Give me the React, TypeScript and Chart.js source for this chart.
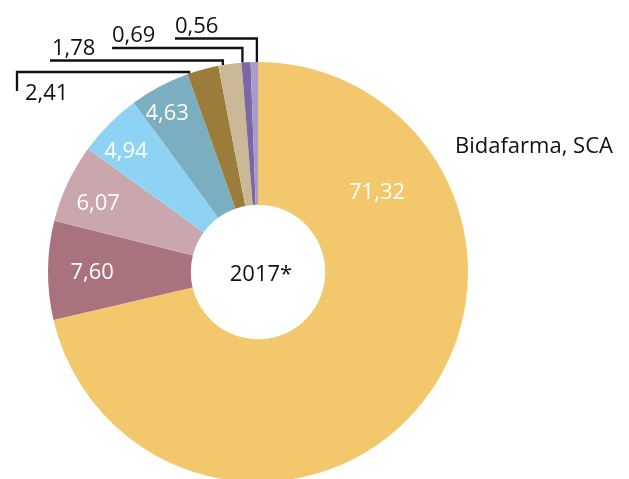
import React, { useEffect, useRef } from "react";
import { Chart, registerables } from "chart.js";

Chart.register(...registerables);

// ---- data ----
const categories = [
  "Bidafarma, SCA",
  "Empresa 2",
  "Empresa 3",
  "Empresa 4",
  "Empresa 5",
  "Empresa 6",
  "Empresa 7",
  "Empresa 8",
  "Empresa 9",
];
const shares = [71.32, 7.6, 6.07, 4.94, 4.63, 2.41, 1.78, 0.69, 0.56];
const centerLabel = "2017*";
const namedCategoryIndex = 0;

// ---- style ----
const colors = [
  "#F3C86C",
  "#A8737D",
  "#C9A7AD",
  "#8FD3F4",
  "#7AAEC0",
  "#9C7C3A",
  "#CAB896",
  "#7C67A6",
  "#A99BC9",
];

type InLayout = { kind: "in"; frac: number; rf: number };
type OutLayout = {
  kind: "out";
  frac: number;
  levelDy: number; // relative to chartArea.top
  leftDx: number; // relative to center x
  dropDy: number;
  textDx: number;
  textDy: number; // baseline relative to level
};
const labelLayout: (InLayout | OutLayout)[] = [
  { kind: "in", frac: 0.217, rf: 0.686 },
  { kind: "in", frac: 0.5, rf: 0.79 },
  { kind: "in", frac: 0.43, rf: 0.83 },
  { kind: "in", frac: 0.38, rf: 0.856 },
  { kind: "in", frac: 0.4, rf: 0.876 },
  { kind: "out", frac: 0.05, levelDy: 10, leftDx: -241, dropDy: 19, textDx: 8, textDy: 28 },
  { kind: "out", frac: 0.2, levelDy: -1.5, leftDx: -208, dropDy: 0, textDx: 2, textDy: -6 },
  { kind: "out", frac: 0.1, levelDy: -14, leftDx: -146, dropDy: 0, textDx: 0, textDy: -6 },
  { kind: "out", frac: 0.85, levelDy: -23.5, leftDx: -83, dropDy: 0, textDx: 0, textDy: -6 },
];

const FONT = '22px "Open Sans"';
const fmt = (v: number) => v.toFixed(2).replace(".", ",");

const labelPlugin = {
  id: "sliceLabels",
  afterDatasetsDraw(chart: any) {
    const ctx: CanvasRenderingContext2D = chart.ctx;
    const arcs = chart.getDatasetMeta(0).data;
    if (!arcs.length) return;
    const first = arcs[0].getProps(["x", "y", "outerRadius"], true);
    const cx = first.x;
    const cy = first.y;
    const R = first.outerRadius;
    ctx.save();
    ctx.font = FONT;
    ctx.textBaseline = "alphabetic";
    arcs.forEach((arc: any, i: number) => {
      const { startAngle, endAngle } = arc.getProps(["startAngle", "endAngle"], true);
      const lay = labelLayout[i];
      const a = startAngle + (endAngle - startAngle) * lay.frac;
      const text = fmt(shares[i]);
      if (lay.kind === "in") {
        const r = R * lay.rf;
        ctx.fillStyle = "#ffffff";
        ctx.textAlign = "center";
        ctx.fillText(text, cx + Math.cos(a) * r, cy + Math.sin(a) * r + 8);
      } else {
        const ax = cx + Math.cos(a) * R;
        const ay = cy + Math.sin(a) * R;
        const ly = chart.chartArea.top + lay.levelDy;
        const lx = cx + lay.leftDx;
        ctx.strokeStyle = "#111111";
        ctx.lineWidth = 2.3;
        ctx.lineCap = "butt";
        ctx.lineJoin = "miter";
        ctx.beginPath();
        ctx.moveTo(ax, ay);
        ctx.lineTo(ax, ly);
        ctx.lineTo(lx, ly);
        if (lay.dropDy) ctx.lineTo(lx, ly + lay.dropDy);
        ctx.stroke();
        ctx.fillStyle = "#111111";
        ctx.textAlign = "left";
        ctx.fillText(text, lx + lay.textDx, ly + lay.textDy);
      }
    });
    // category name of the main slice
    ctx.fillStyle = "#111111";
    ctx.textAlign = "left";
    ctx.fillText(categories[namedCategoryIndex], cx + 197, cy - 119);
    // center label
    ctx.textAlign = "center";
    ctx.fillText(centerLabel, cx + 3, cy + 9);
    ctx.restore();
  },
};

export default function App() {
  const ref = useRef<HTMLCanvasElement | null>(null);
  useEffect(() => {
    if (!ref.current) return;
    const chart = new Chart(ref.current, {
      type: "doughnut",
      data: {
        labels: categories,
        datasets: [
          {
            data: shares,
            backgroundColor: colors,
            borderWidth: 0,
            hoverOffset: 0,
          },
        ],
      },
      options: {
        responsive: false,
        animation: false,
        cutout: "32%",
        layout: { padding: { left: 48, right: 161, top: 62, bottom: 18 } },
        plugins: {
          legend: { display: false },
          tooltip: { enabled: false },
        },
        events: [],
      },
      plugins: [labelPlugin],
    });
    return () => chart.destroy();
  }, []);
  return (
    <div
      style={{
        position: "fixed",
        left: 0,
        top: 0,
        width: 629,
        height: 479,
        overflow: "hidden",
        background: "#ffffff",
      }}
    >
      <canvas ref={ref} width={629} height={500} style={{ width: 629, height: 500, display: "block" }} />
    </div>
  );
}
